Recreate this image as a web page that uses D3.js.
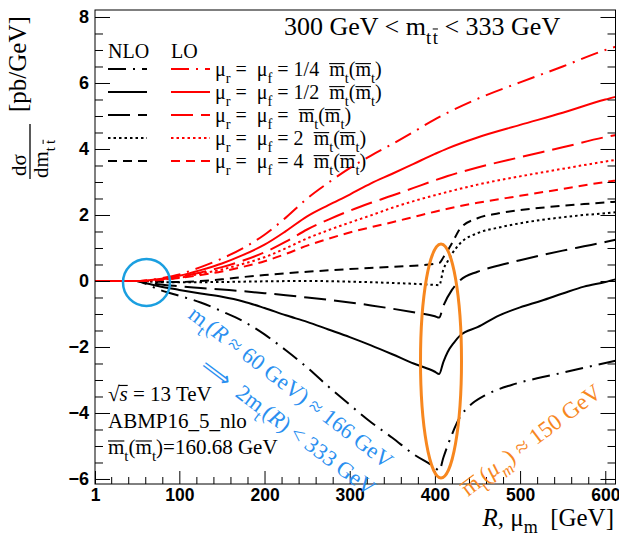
<!DOCTYPE html>
<html><head><meta charset="utf-8">
<script src="https://cdn.jsdelivr.net/npm/d3@7"></script>
<style>body{margin:0;background:#fff} svg{display:block} text{white-space:pre}</style>
</head><body><svg id="c" width="619" height="538"></svg>
<script>
// ---------------- data ----------------
const loX = [1, 50, 60, 75, 100, 125, 150, 175, 200, 225, 250, 275, 300, 325, 350, 375, 400, 415, 450, 500, 550, 600, 612];
const lo_quarter = [0,0,0.01,0.07,0.2,0.42,0.68,1.0,1.4,1.92,2.5,2.98,3.42,3.8,4.15,4.52,4.9,5.1,5.52,6.02,6.5,7.0,7.1];
const lo_half    = [0,0,0.01,0.05,0.16,0.33,0.53,0.79,1.1,1.51,1.96,2.3,2.62,2.96,3.25,3.55,3.85,4.02,4.35,4.73,5.1,5.5,5.58];
const lo_one     = [0,0,0.01,0.04,0.13,0.26,0.42,0.62,0.87,1.19,1.56,1.86,2.13,2.37,2.59,2.82,3.05,3.18,3.44,3.75,4.05,4.36,4.42];
const lo_two     = [0,0,0.005,0.03,0.1,0.22,0.35,0.52,0.72,0.99,1.29,1.54,1.77,1.99,2.22,2.42,2.6,2.7,2.92,3.17,3.4,3.62,3.67];
const lo_four    = [0,0,0.005,0.025,0.09,0.18,0.29,0.43,0.6,0.82,1.07,1.28,1.47,1.63,1.78,1.94,2.1,2.19,2.37,2.58,2.79,3.0,3.04];

const nloQuarterX = [1,50,60,75,100,125,150,175,200,225,250,275,300,325,350,375,400,405,410,420,430,440,460,490,520,550,580,612];
const nlo_quarter = [0,0,-0.08,-0.25,-0.45,-0.65,-0.92,-1.22,-1.62,-2.1,-2.62,-3.2,-3.75,-4.28,-4.75,-5.25,-5.65,-5.75,-5.35,-4.65,-4.1,-3.8,-3.45,-3.15,-2.95,-2.78,-2.6,-2.42];
const nloHalfX = [1,50,60,75,100,125,150,175,200,225,250,275,300,325,350,375,400,405,410,415,422,430,450,475,500,525,550,575,600,612];
const nlo_half = [0,0,-0.06,-0.15,-0.27,-0.38,-0.48,-0.62,-0.82,-1.04,-1.24,-1.47,-1.7,-1.95,-2.22,-2.5,-2.75,-2.82,-2.45,-2.15,-1.88,-1.64,-1.4,-1.05,-0.8,-0.6,-0.38,-0.17,-0.03,0.05];
const nloOneX = [1,50,60,75,100,125,150,175,200,225,250,275,300,325,350,375,400,405,410,420,430,450,475,500,525,550,575,600,612];
const nlo_one = [0,0,-0.04,-0.1,-0.16,-0.21,-0.26,-0.31,-0.37,-0.43,-0.5,-0.57,-0.65,-0.74,-0.84,-0.95,-1.07,-1.11,-0.75,-0.27,0.03,0.28,0.47,0.63,0.78,0.92,1.05,1.18,1.25];
const nloTwoX = [1,50,75,100,150,200,250,300,350,400,405,410,415,420,430,450,475,500,525,550,575,600,612];
const nlo_two = [0,0,-0.03,-0.04,-0.03,-0.01,0,-0.02,-0.06,-0.12,-0.13,0.35,0.6,0.82,1.15,1.45,1.62,1.75,1.85,1.93,2.0,2.05,2.08];
const nloFourX = [1,50,75,100,125,150,175,200,250,300,350,400,405,410,415,420,430,450,475,500,525,550,575,600,612];
const nlo_four = [0,0,-0.02,-0.03,0.0,0.05,0.12,0.18,0.28,0.36,0.43,0.52,0.54,0.72,0.92,1.14,1.6,1.9,2.05,2.15,2.22,2.28,2.33,2.38,2.4];

const scaleLabels = ["1/4", "1/2", "", "2", "4"];
const yMajor = [-6,-4,-2,0,2,4,6,8];
const xMajor = [1,100,200,300,400,500,600];
const xMajorLabels = ["1","100","200","300","400","500","600"];

// ---------------- setup ----------------
const svg = d3.select("#c");
const L = 95, R = 615.5, T = 10, B = 484;
const x = d3.scaleLinear().domain([1, 612]).range([L, R]);
const y = d3.scaleLinear().domain([-6.152, 8.212]).range([B, T]);
const SERIF = "'Liberation Serif','Times New Roman',serif";
const SANS = "'Liberation Sans',Arial,sans-serif";

// rich text with manual overlines; parent may carry a transform
function rich(parent, px, py, segs, fs, opts) {
  opts = opts || {};
  const color = opts.fill || "#000";
  const t = parent.append("text").attr("x", px).attr("y", py)
    .attr("font-family", SERIF).attr("font-size", fs).attr("fill", color);
  if (opts.anchor) t.attr("text-anchor", opts.anchor);
  let cur = 0, idx = 0;
  const ovs = [];
  segs.forEach(s => {
    const sz = s.sub ? fs * 0.72 : fs;
    const target = s.sub ? fs * (opts.subDy || 0.33) : 0;
    const ts = t.append("tspan").text(s.t).attr("dy", target - cur);
    cur = target;
    if (s.sub) ts.attr("font-size", sz);
    if (s.it) ts.attr("font-style", "italic");
    if (s.ls) ts.attr("letter-spacing", s.ls);
    if (s.ov) ovs.push([idx, idx + s.t.length - 1, sz, s.ovh || 0.62, s.ovx || 0]);
    idx += s.t.length;
  });
  ovs.forEach(([a, b, sz, h, dx]) => {
    const n = t.node();
    const p0 = n.getStartPositionOfChar(a);
    const p1 = n.getEndPositionOfChar(b);
    const yy = p0.y - sz * h;
    parent.append("line").attr("x1", p0.x + dx).attr("x2", p1.x).attr("y1", yy).attr("y2", yy)
      .attr("stroke", color).attr("stroke-width", Math.max(1, sz * 0.055));
  });
  return t;
}

const dashes = ["18,7,2,7", null, "22,8", "2.5,3", "9,6"];

// ---------------- curves ----------------
const gC = svg.append("g");
const lineGen = d3.line().x(d => x(d[0])).y(d => y(d[1])).curve(d3.curveMonotoneX);
const black = [[nloQuarterX, nlo_quarter],[nloHalfX, nlo_half],[nloOneX, nlo_one],[nloTwoX, nlo_two],[nloFourX, nlo_four]];
black.forEach((s, i) => {
  gC.append("path").datum(s[0].map((v, j) => [v, s[1][j]]))
    .attr("d", lineGen).attr("fill","none").attr("stroke","#000").attr("stroke-width",2)
    .attr("stroke-dasharray", dashes[i]);
});
const red = [lo_quarter, lo_half, lo_one, lo_two, lo_four];
red.forEach((s, i) => {
  gC.append("path").datum(loX.map((v, j) => [v, s[j]]))
    .attr("d", lineGen).attr("fill","none").attr("stroke","#ff0000").attr("stroke-width",2)
    .attr("stroke-dasharray", dashes[i]);
});

// ---------------- axes ----------------
function styleAxis(g) { g.select(".domain").remove(); g.selectAll("line").attr("stroke","#000").attr("stroke-width",1); }
const yMinor = d3.range(-6, 8.01, 0.5).filter(v => Math.abs(v % 2) > 1e-9);
svg.append("g").attr("transform",`translate(${L},0)`).call(d3.axisLeft(y).tickValues(yMinor).tickSize(-8).tickFormat("")).call(styleAxis);
svg.append("g").attr("transform",`translate(${R},0)`).call(d3.axisRight(y).tickValues(yMinor).tickSize(-8).tickFormat("")).call(styleAxis);
svg.append("g").attr("transform",`translate(${R},0)`).call(d3.axisRight(y).tickValues(yMajor).tickSize(-15).tickFormat("")).call(styleAxis);
const gyl = svg.append("g").attr("transform",`translate(${L},0)`).call(d3.axisLeft(y).tickValues(yMajor).tickSize(-15).tickPadding(6)).call(styleAxis);
gyl.selectAll("text").attr("font-family", SANS).attr("font-weight","bold").attr("font-size",18).attr("fill","#000");

const xMinor = d3.range(20, 601, 20).filter(v => v % 100 !== 0);
svg.append("g").attr("transform",`translate(0,${B})`).call(d3.axisBottom(x).tickValues(xMinor).tickSize(-7).tickFormat("")).call(styleAxis);
const gxl = svg.append("g").attr("transform",`translate(0,${B})`).call(d3.axisBottom(x).tickValues(xMajor).tickSize(-13).tickPadding(5).tickFormat((d,i) => xMajorLabels[i])).call(styleAxis);
gxl.selectAll("text").attr("font-family", SANS).attr("font-weight","bold").attr("font-size",17.5).attr("fill","#000");

svg.append("rect").attr("x",L).attr("y",T).attr("width",R-L).attr("height",B-T)
  .attr("fill","none").attr("stroke","#000").attr("stroke-width",1);

// ---------------- title ----------------
rich(svg, 284, 35, [{t:"300 GeV < m"},{t:"t",sub:1,ls:1.5},{t:"t",sub:1,ov:1,ovh:0.78},{t:" < 333 GeV"}], 26);

// ---------------- legend ----------------
const lg = svg.append("g").attr("font-family", SERIF).attr("font-size", 20);
lg.append("text").attr("x",108).attr("y",58).text("NLO");
lg.append("text").attr("x",171).attr("y",58).text("LO");
const rowY = [69, 92, 115, 138, 161];
scaleLabels.forEach((lab, i) => {
  const yy = rowY[i];
  lg.append("line").attr("x1",108).attr("x2",147).attr("y1",yy).attr("y2",yy)
    .attr("stroke","#000").attr("stroke-width",2).attr("stroke-dasharray",dashes[i]);
  lg.append("line").attr("x1",171).attr("x2",210).attr("y1",yy).attr("y2",yy)
    .attr("stroke","#ff0000").attr("stroke-width",2).attr("stroke-dasharray",dashes[i]);
  const segs = [{t:"μ"},{t:"r",sub:1},{t:" =  μ"},{t:"f",sub:1},{t:lab ? " = " + lab + "  " : " =  "},
    {t:"m",ov:1},{t:"t",sub:1},{t:"("},{t:"m",ov:1},{t:"t",sub:1},{t:")"}];
  rich(lg, 215, yy + 7, segs, 20, {subDy: 0.34});
});

// ---------------- y title ----------------
const gyt = svg.append("g").attr("transform","translate(30,0) rotate(-90)").attr("font-family",SERIF);
gyt.append("text").attr("x",-165).attr("y",-4).attr("text-anchor","middle").attr("font-size",21).text("dσ");
gyt.append("line").attr("x1",-179).attr("x2",-124).attr("y1",0).attr("y2",0).attr("stroke","#000").attr("stroke-width",1.3);
rich(gyt, -178, 18, [{t:"dm"},{t:"t",sub:1,ls:3},{t:"t",sub:1,ov:1,ovh:0.78}], 21);
gyt.append("text").attr("x",-112).attr("y",-4).attr("font-size",25).text("[pb/GeV]");

// ---------------- x title ----------------
rich(svg, 614, 526, [{t:"R",it:1},{t:", μ"},{t:"m",sub:1},{t:"  [GeV]"}], 25, {anchor:"end", subDy:0.28});

// ---------------- info text ----------------
rich(svg, 108, 401, [{t:"√"},{t:"s",it:1,ov:1,ovh:0.74,ovx:-1}, {t:" = 13 TeV"}], 21);
rich(svg, 108, 428, [{t:"ABMP16_5_nlo"}], 21);
rich(svg, 108, 454, [{t:"m",ov:1},{t:"t",sub:1},{t:"("},{t:"m",ov:1},{t:"t",sub:1},{t:")=160.68 GeV"}], 21);

// ---------------- annotations ----------------
const BLUE = "#2a8ff0", CIRC = "#1b9fe0", ORANGE = "#f7871f";
svg.append("circle").attr("cx",146.5).attr("cy",282.5).attr("r",23.5).attr("fill","none").attr("stroke",CIRC).attr("stroke-width",2.5);
svg.append("ellipse").attr("cx",441).attr("cy",361).attr("rx",20.5).attr("ry",117).attr("fill","none").attr("stroke",ORANGE).attr("stroke-width",3);

const a1 = svg.append("g").attr("transform","translate(187,317) rotate(37.5)");
rich(a1, 0, 0, [{t:"m"},{t:"t",sub:1},{t:"("},{t:"R",it:1},{t:" ≈ 60 GeV) ≈ 166 GeV"}], 22.5, {fill: BLUE});
const a2 = svg.append("g").attr("transform","translate(199,369) rotate(37)");
rich(a2, 0, 0, [{t:"⟹  2m"},{t:"t",sub:1},{t:"("},{t:"R",it:1},{t:") < 333 GeV"}], 22.5, {fill: BLUE});
const a3 = svg.append("g").attr("transform","translate(468,497) rotate(-37)");
rich(a3, 0, 0, [{t:"m",ov:1},{t:"t",sub:1},{t:"("},{t:"μ",it:1},{t:"m",sub:1,it:1},{t:") ≈ 150 GeV"}], 23, {fill: ORANGE});
</script></body></html>
